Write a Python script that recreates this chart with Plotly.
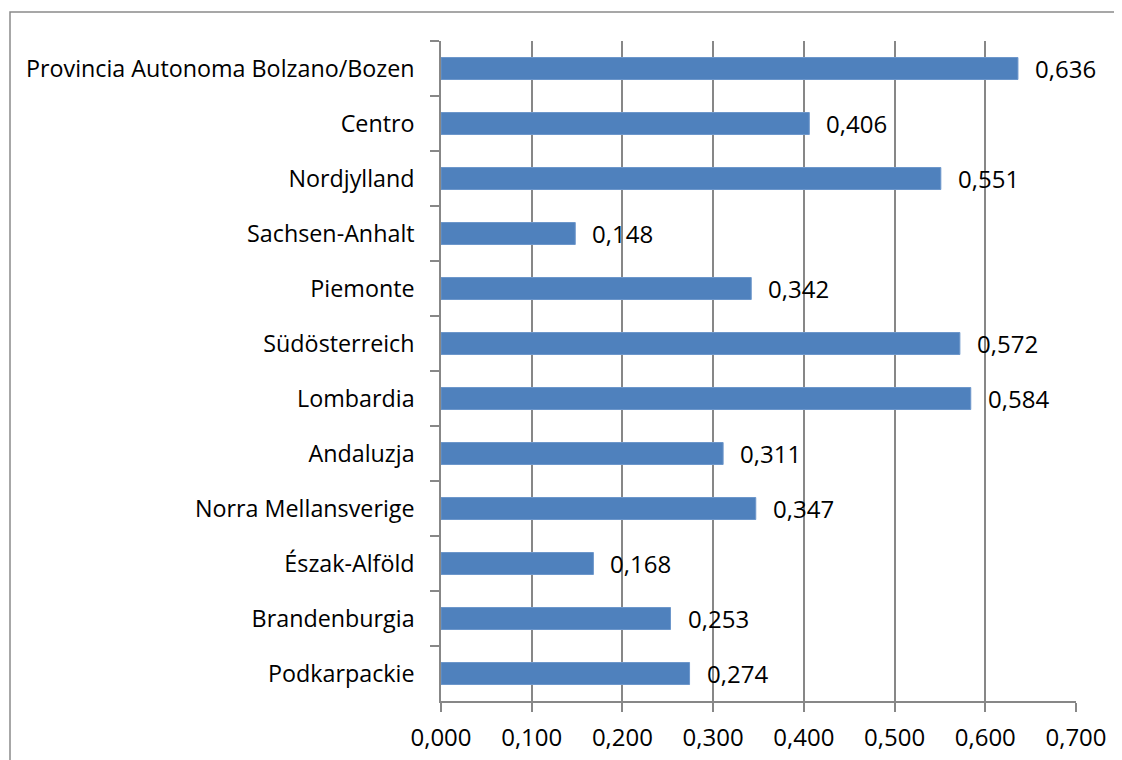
import plotly.graph_objects as go

regions = ["Provincia Autonoma Bolzano/Bozen", "Centro", "Nordjylland", "Sachsen-Anhalt",
           "Piemonte", "Südösterreich", "Lombardia", "Andaluzja", "Norra Mellansverige",
           "Észak-Alföld", "Brandenburgia", "Podkarpackie"]
values = [0.636, 0.406, 0.551, 0.148, 0.342, 0.572, 0.584, 0.311, 0.347, 0.168, 0.253, 0.274]
x_ticks = [0.0, 0.1, 0.2, 0.3, 0.4, 0.5, 0.6, 0.7]

FONT = "Open Sans"
GRID = "#878787"

fig = go.Figure(go.Bar(
    x=values, y=regions, orientation="h",
    marker=dict(color="#4F81BD", line=dict(color="#6D97CB", width=1)),
    hoverinfo="skip",
))

for r, v in zip(regions, values):
    fig.add_annotation(x=v, y=r, text=f"{v:.3f}".replace(".", ","), showarrow=False,
                       xanchor="left", yanchor="middle", xshift=15, yshift=0,
                       font=dict(family=FONT, size=24, color="black"))

# page offset of 8px from the default body margin
fig.update_layout(
    width=1114, height=752,
    margin=dict(l=433, r=46, t=33, b=59, autoexpand=False),
    paper_bgcolor="white", plot_bgcolor="white",
    separators=",.",
    bargap=0.6,
    showlegend=False,
    font=dict(family=FONT, size=24, color="black"),
    xaxis=dict(range=[0, 0.7], tickvals=x_ticks, tickformat=".3f",
               showgrid=True, gridcolor=GRID, gridwidth=1.5,
               showline=True, linecolor=GRID, linewidth=1.5,
               ticks="outside", ticklen=9, tickcolor=GRID, tickwidth=1.5,
               zeroline=False, fixedrange=True, ticklabelstandoff=5, automargin=False,
               tickfont=dict(family=FONT, size=24, color="black")),
    yaxis=dict(autorange="reversed", type="category", tickson="boundaries",
               showline=True, linecolor=GRID, linewidth=1.5,
               ticks="outside", ticklen=9, tickcolor=GRID, tickwidth=1.5,
               showgrid=False, fixedrange=True, ticklabelstandoff=20, automargin=False,
               tickfont=dict(family=FONT, size=23.3, color="black")),
    shapes=[dict(type="rect", xref="paper", yref="paper",
                 x0=(10 - 441) / 635, x1=(1135 - 441) / 635,
                 y0=(701 - 775) / 660, y1=(701 - 12) / 660,
                 line=dict(color="#8a8a8a", width=1.5), fillcolor="rgba(0,0,0,0)",
                 layer="below")],
)

fig.write_html("out.html")
